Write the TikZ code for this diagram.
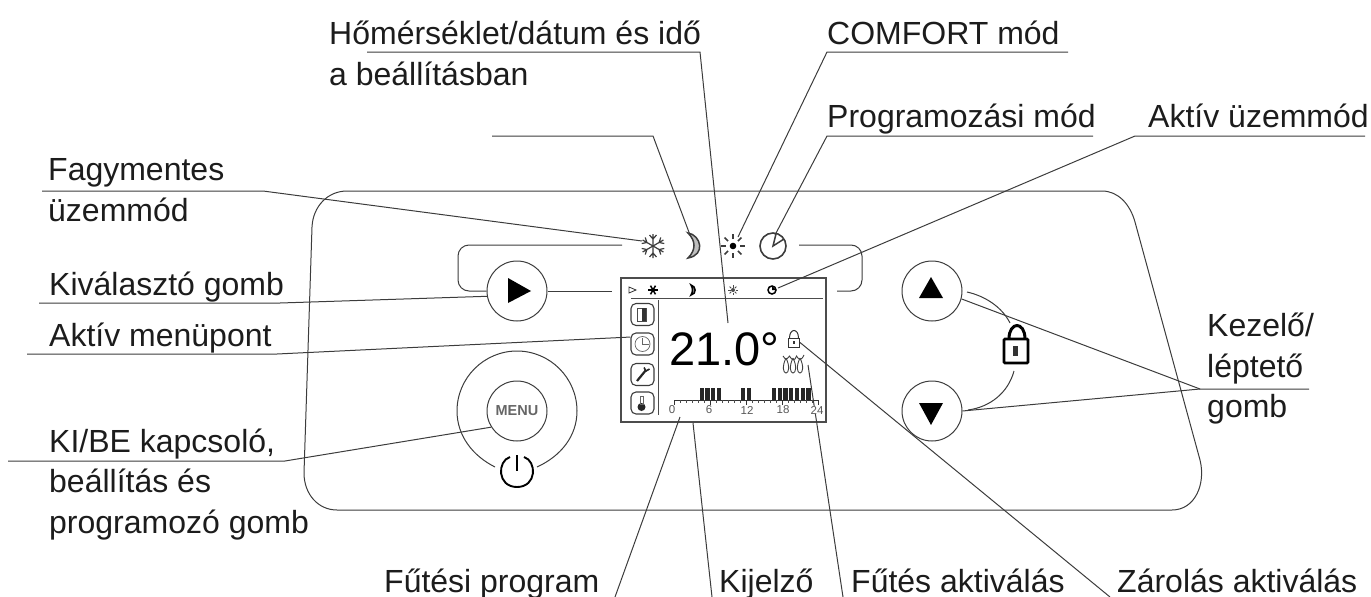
\documentclass[tikz,border=0pt]{standalone}
\usepackage{fontspec}
\setmainfont{Liberation Sans}
\definecolor{ink}{HTML}{1C1C1C}
\definecolor{wire}{HTML}{3C3C3C}
\tikzset{
  lbl/.style={anchor=base west,inner sep=0pt,text=ink,font=\fontsize{32}{36}\selectfont},
  leader/.style={draw=wire,line width=1pt},
  btn/.style={circle,draw=wire,line width=1pt,minimum size=60pt,inner sep=0pt},
  iconbox/.style={draw=wire,line width=1.1pt,rounded corners=5pt,minimum width=23pt,minimum height=22pt,inner sep=0pt},
  hour/.style={inner sep=0pt,fill=white,text=black!65,font=\fontsize{11.5}{12}\selectfont},
}
\begin{document}
\begin{tikzpicture}[x=1pt,y=-1pt]
  \useasboundingbox (0,0) rectangle (1371,597);

  % panel outline
  \draw[wire,line width=1pt] (347,191) -- (1102,191) .. controls (1118,191) and (1130,204) .. (1135,222)
    -- (1200,460) .. controls (1206,484) and (1195,510) .. (1172,510) -- (337,510)
    .. controls (318,510) and (304,494) .. (304,473) -- (312,227) .. controls (313,206) and (328,191) .. (347,191) -- cycle;

  % buttons
  \node[btn] (selbtn) at (517,291) {};
  \node[btn] (menubtn) at (517,411) {};
  \node[btn] (upbtn) at (932,291) {};
  \node[btn] (downbtn) at (932,411) {};
  \fill[black] (508,278) -- (531,291) -- (508,303) -- cycle;
  \fill[black] (919,298) -- (931,277) -- (943,298) -- cycle;
  \fill[black] (919,403) -- (943,403) -- (931,425) -- cycle;
  \node[inner sep=0pt,text=black!60,font=\fontsize{14.5}{15}\bfseries\selectfont] (menutxt) at (517,411) {MENU};

  % ring and power sign
  \draw[wire,line width=1pt] (495,467) .. controls (473,456) and (457,436) .. (457,411)
    .. controls (457,378) and (484,351) .. (517,351) .. controls (550,351) and (577,378) .. (577,411)
    .. controls (577,436) and (561,456) .. (537,467);
  \draw[black,line width=1.9pt] (510,457) .. controls (497,461) and (497,487) .. (517,487)
    .. controls (537,487) and (537,461) .. (524,457);
  \draw[black,line width=1.6pt] (517,455) -- (517,471);

  % selector bar
  \coordinate (barL) at (622,245);
  \coordinate (barR) at (799,245);
  \coordinate (barA) at (612,291);
  \coordinate (barB) at (837,291);
  \draw[leader,rounded corners=11pt] (barL) -- (458,245) -- (458,291) -- (selbtn.west);
  \draw[leader] (selbtn.east) -- (barA);
  \draw[leader,rounded corners=11pt] (barR) -- (862,245) -- (862,291) -- (barB);

  % large mode icons
  \coordinate (snow) at (653,246);
  \coordinate (moon) at (693,246);
  \coordinate (sun) at (733,246);
  \coordinate (clk) at (773,246);
  \foreach \a in {30,90,...,330} {
    \begin{scope}[shift={(snow)},rotate=\a]
      \draw[wire,line width=1.2pt] (0,0) -- (12,0) (7,0) -- (11,-3.5) (7,0) -- (11,3.5);
    \end{scope}
  }
  \draw[wire,line width=1.5pt,fill=black!25] (688,233) .. controls (701,235) and (706,255) .. (688,258)
    .. controls (696,250) and (696,241) .. (688,233) -- cycle;
  \fill[black] (sun) circle [radius=3.3];
  \foreach \a in {0,45,...,315} {
    \begin{scope}[shift={(sun)},rotate=\a]
      \draw[wire,line width=1.5pt] (7,0) -- (12,0);
    \end{scope}
  }
  \draw[wire,line width=1.6pt] (clk) circle [radius=13];
  \draw[wire,line width=1.5pt] (776,234) -- (773,246) -- (784,239);

  % display
  \node[draw=black!70,line width=1.2pt,minimum width=205pt,minimum height=144pt,inner sep=0pt] (display) at (723.5,350) {};
  \draw[black!70,line width=1pt] (631,298) -- (823,298);
  \draw[black!70,line width=1pt] (658,300) -- (658,415);
  \draw[black!80,line width=0.8pt] (629,287) -- (636,290) -- (629,293) -- cycle;
  \foreach \a in {0,60,120} {
    \draw[black,line width=1.5pt,shift={(653,290)},rotate=\a] (-5,0) -- (5,0);
  }
  \draw[black,line width=1.5pt,fill=black!40] (691,285) .. controls (696,286) and (697,294) .. (691,295)
    .. controls (693,292) and (693,288) .. (691,285) -- cycle;
  \fill[black!70] (733,290) circle [radius=2];
  \foreach \a in {0,45,...,315} {
    \draw[black!70,line width=0.9pt,shift={(733,290)},rotate=\a] (2.5,0) -- (4.8,0);
  }
  \coordinate (miniclk) at (772,290);
  \draw[black,line width=1.5pt] (miniclk) circle [radius=4];
  \fill[black] (miniclk) -- (772,286) -- (776,290) -- cycle;

  % menu icons
  \node[iconbox] (doorbox) at (642.5,314.5) {};
  \node[iconbox] (clockbox) at (642.5,344) {};
  \node[iconbox] (toolbox) at (642.5,374.5) {};
  \node[iconbox] (thermobox) at (642.5,403) {};
  \draw[black!70,line width=0.7pt] (637,308) rectangle (646,321);
  \fill[black!80] (642,308) rectangle (646,321);
  \draw[black!60,line width=0.7pt] (642.5,344) circle [radius=7.5];
  \draw[black!60,line width=0.7pt] (642.5,338) -- (642.5,344) -- (649,344);
  \draw[black!85,line width=2.2pt] (637,381) -- (646,370);
  \draw[black!85,line width=1.6pt] (644,367.5) -- (646,371) -- (649.5,369);
  \fill[black!85] (641.5,407) circle [radius=4];
  \draw[black!60,line width=0.8pt] (640,396) rectangle (643,404);

  % temperature
  \node[anchor=base west,inner sep=0pt,text=black,font=\fontsize{47}{50}\selectfont] (temp) at (669,365) {21.0°};

  % small lock and heater
  \node[draw=black!80,line width=1pt,minimum width=11pt,minimum height=9pt,inner sep=0pt] (minilock) at (794,342.5) {};
  \draw[black!80,line width=1pt] (789.5,338) .. controls (789.5,328) and (798.5,328) .. (798.5,338);
  \fill[black!80] (793,341) rectangle (795,344);
  \foreach \x in {786,793,800} {
    \draw[black!75,line width=0.9pt] (\x,358) .. controls (\x-4,366) and (\x-3,373) .. (\x,373)
      .. controls (\x+3,373) and (\x+4,366) .. (\x,358);
  }
  \draw[black!75,line width=0.9pt] (783,356) .. controls (786,361) and (787,359) .. (789.5,356)
    .. controls (792,361) and (795,361) .. (796.5,356) .. controls (799,361) and (802,360) .. (804,355);

  % leaders with their labels
  \node[lbl] (templbl) at (329,44) {Hőmérséklet/dátum és idő};
  \node[lbl] (templbl2) at (329,85) {a beállításban};
  \coordinate (tempA) at (367,52);
  \coordinate (tempB) at (700,52);
  \coordinate (tempC) at (728,323);
  \draw[leader] (tempA) -- (tempB) -- (tempC);

  \coordinate (moonA) at (492,136);
  \coordinate (moonB) at (653,136);
  \coordinate (moonC) at (690,235);
  \draw[leader] (moonA) -- (moonB) -- (moonC);

  \node[lbl] (comflbl) at (827,44) {COMFORT mód};
  \coordinate (comfA) at (1068,52);
  \coordinate (comfB) at (827,52);
  \coordinate (comfC) at (738,237);
  \draw[leader] (comfA) -- (comfB) -- (comfC);

  \node[lbl] (proglbl) at (827,127) {Programozási mód};
  \coordinate (progA) at (1093,136);
  \coordinate (progB) at (827,136);
  \coordinate (progC) at (775,235);
  \draw[leader] (progA) -- (progB) -- (progC);

  \node[lbl] (aktlbl) at (1148,127) {Aktív üzemmód};
  \coordinate (aktA) at (1365,136);
  \coordinate (aktB) at (1135,136);
  \coordinate (aktC) at (778,288);
  \draw[leader] (aktA) -- (aktB) -- (aktC);

  \node[lbl] (fagylbl) at (48,180) {Fagymentes};
  \node[lbl] (fagylbl2) at (48,221) {üzemmód};
  \coordinate (fagyA) at (42,191);
  \coordinate (fagyB) at (263,191);
  \coordinate (fagyC) at (642,241);
  \draw[leader] (fagyA) -- (fagyB) -- (fagyC);

  \node[lbl] (sellbl) at (49,295) {Kiválasztó gomb};
  \coordinate (selA) at (39,303);
  \coordinate (selB) at (280,303);
  \draw[leader] (selA) -- (selB) -- (selbtn.190);

  \node[lbl] (menulbl) at (49,346) {Aktív menüpont};
  \coordinate (itemA) at (27,354);
  \coordinate (itemB) at (277,354);
  \draw[leader] (itemA) -- (itemB) -- (clockbox.150);

  \node[lbl] (kilbl) at (49,452) {KI/BE kapcsoló,};
  \node[lbl] (kilbl2) at (49,492) {beállítás és};
  \node[lbl] (kilbl3) at (49,533) {programozó gomb};
  \coordinate (kiA) at (8,461);
  \coordinate (kiB) at (285,461);
  \draw[leader] (kiA) -- (kiB) -- (menubtn.212);

  \node[lbl] (kezlbl) at (1207,336) {Kezelő/};
  \node[lbl] (kezlbl2) at (1207,377) {léptető};
  \node[lbl] (kezlbl3) at (1207,417) {gomb};
  \coordinate (kezA) at (1309,389);
  \coordinate (kezB) at (1200,389);
  \draw[leader] (kezA) -- (kezB) -- (upbtn.345);
  \draw[leader] (kezB) -- (downbtn.east);

  % bottom labels
  \node[lbl] (progfut) at (384,592) {Fűtési program};
  \node[lbl] (kijlbl) at (719,592) {Kijelző};
  \node[lbl] (futlbl) at (851,592) {Fűtés aktiválás};
  \node[lbl] (zarlbl) at (1117,592) {Zárolás aktiválás};
  \coordinate (futA) at (680,417);
  \coordinate (futB) at (615,597);
  \coordinate (kijA) at (693,423);
  \coordinate (kijB) at (712,597);
  \coordinate (heatA) at (808,365);
  \coordinate (heatB) at (843,597);
  \coordinate (zarB) at (1110,597);
  \draw[leader] (futA) -- (futB);
  \draw[leader] (kijA) -- (kijB);
  \draw[leader] (heatA) -- (heatB);
  \draw[leader] (minilock.east) -- (zarB);

  % program bar
  \node[hour] (h0) at (672,410) {0};
  \node[hour] (h6) at (709,410) {6};
  \node[hour] (h12) at (747,410) {12};
  \node[hour] (h18) at (783,410) {18};
  \node[hour] (h24) at (817,410) {24};
  \draw[black!80,line width=0.8pt] (674,400) -- (818,400);
  \foreach \i in {0,...,24} {
    \draw[black!70,line width=0.5pt] (674+6*\i,400) -- (674+6*\i,403);
  }
  \foreach \i in {0,6,...,24} {
    \draw[black!80,line width=0.7pt] (674+6*\i,400) -- (674+6*\i,405);
  }
  \foreach \x in {699.5,705.2,711,716.7,741,746.7,771.7,777.5,783.3,789,794.8,800.6,806.4} {
    \fill[black!85] (\x,388) rectangle (\x+4.3,400);
  }

  % big lock
  \node[draw=black,line width=2.8pt,rounded corners=1pt,minimum width=24pt,minimum height=24pt,inner sep=0pt] (biglock) at (1016,351) {};
  \draw[black,line width=3pt] (1009,339) .. controls (1009,321) and (1025,321) .. (1025,339);
  \fill[black!80] (1013,346) rectangle (1018,356);
  \coordinate (upA) at (967,292);
  \coordinate (upB) at (1010,323);
  \coordinate (dnA) at (1014,371);
  \coordinate (dnB) at (968,410);
  \draw[leader] (upA) .. controls (985,296) and (1002,307) .. (upB);
  \draw[leader] (dnA) .. controls (1008,393) and (990,407) .. (dnB);
\end{tikzpicture}
\end{document}
